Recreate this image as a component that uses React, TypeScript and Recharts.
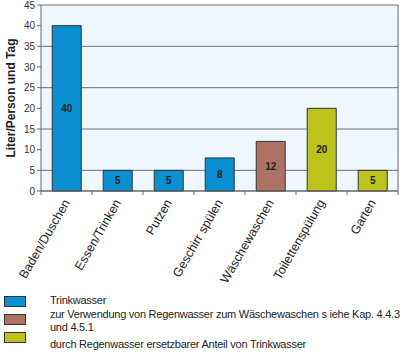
import { BarChart, Bar, XAxis, YAxis, CartesianGrid, Cell, LabelList } from 'recharts';

const CATEGORIES = ['Baden/Duschen', 'Essen/Trinken', 'Putzen', 'Geschirr spülen', 'Wäschewaschen', 'Toilettenspülung', 'Garten'];
const VALUES = [40, 5, 5, 8, 12, 20, 5];
const GROUPS = [0, 0, 0, 0, 1, 2, 2];
const Y_TICKS = [0, 5, 10, 15, 20, 25, 30, 35, 40, 45];
const LEGEND = [
  ['Trinkwasser'],
  ['zur Verwendung von Regenwasser zum Wäschewaschen s iehe Kap. 4.4.3', 'und 4.5.1'],
  ['durch Regenwasser ersetzbarer Anteil von Trinkwasser'],
];

const COLORS = ['#0a8fd2', '#ad7264', '#bec21c'];
const FONT = '"Liberation Sans", Arial, sans-serif';

const data = CATEGORIES.map((name, i) => ({ name, value: VALUES[i], group: GROUPS[i] }));

function XTick({ x, y, payload, index }: any) {
  const half = 25.5;
  return (
    <g>
      {index === 0 && <line x1={x - half} x2={x - half} y1={y - 8} y2={y - 4} stroke="#666" />}
      <line x1={x + half} x2={x + half} y1={y - 8} y2={y - 4} stroke="#666" />
      <text
        x={x}
        y={y}
        transform={`rotate(-60, ${x}, ${y})`}
        textAnchor="end"
        dy={5}
        dx={-1}
        fontSize={12.5}
        fill="#222"
        fontFamily={FONT}
      >
        {payload.value}
      </text>
    </g>
  );
}

function YTitle({ viewBox }: any) {
  const cy = viewBox.y + viewBox.height / 2;
  return (
    <text
      x={15}
      y={cy}
      transform={`rotate(-90, 15, ${cy})`}
      textAnchor="middle"
      fontSize={12}
      fontWeight="bold"
      fill="#222"
      fontFamily={FONT}
    >
      Liter/Person und Tag
    </text>
  );
}

export default function App() {
  return (
    <div style={{ position: 'absolute', left: 0, top: 0, width: 400, height: 357, background: '#fff', fontFamily: FONT }}>
      <BarChart
        width={400}
        height={290}
        data={data}
        margin={{ top: 5, right: 1, left: 0, bottom: 0 }}
        barCategoryGap="22%"
      >
        <CartesianGrid vertical={false} stroke="#6f6f6f" fill="#eef7fd" />
        <XAxis
          dataKey="name"
          height={99}
          interval={0}
          tickLine={false}
          axisLine={{ stroke: '#666' }}
          tick={<XTick />}
        />
        <YAxis
          domain={[0, 45]}
          ticks={Y_TICKS}
          width={41}
          tickSize={4}
          tick={{ fontSize: 10, fill: '#333', fontFamily: FONT }}
          axisLine={{ stroke: '#666' }}
          tickLine={{ stroke: '#666' }}
          label={<YTitle />}
        />
        <YAxis yAxisId="r" orientation="right" width={1} tick={false} tickLine={false} axisLine={{ stroke: '#666' }} />
        <Bar dataKey="value" stroke="#333" strokeWidth={1} isAnimationActive={false}>
          {data.map((d, i) => (
            <Cell key={i} fill={COLORS[d.group]} />
          ))}
          <LabelList dataKey="value" position="center" fontSize={10} fontWeight="bold" fill="#222" fontFamily={FONT} />
        </Bar>
      </BarChart>
      {LEGEND.map((lines, i) => (
        <div key={i}>
          <div
            style={{
              position: 'absolute',
              left: 4,
              top: [296, 314, 332][i],
              width: 20,
              height: 9,
              background: COLORS[i],
              border: '1px solid #333',
            }}
          />
          <div
            style={{
              position: 'absolute',
              left: 50,
              top: [294, 308, 338][i],
              fontSize: 11,
              lineHeight: '13px',
              color: '#222',
              letterSpacing: -0.25,
              whiteSpace: 'nowrap',
            }}
          >
            {lines.map((l, j) => (
              <div key={j}>{l}</div>
            ))}
          </div>
        </div>
      ))}
    </div>
  );
}
